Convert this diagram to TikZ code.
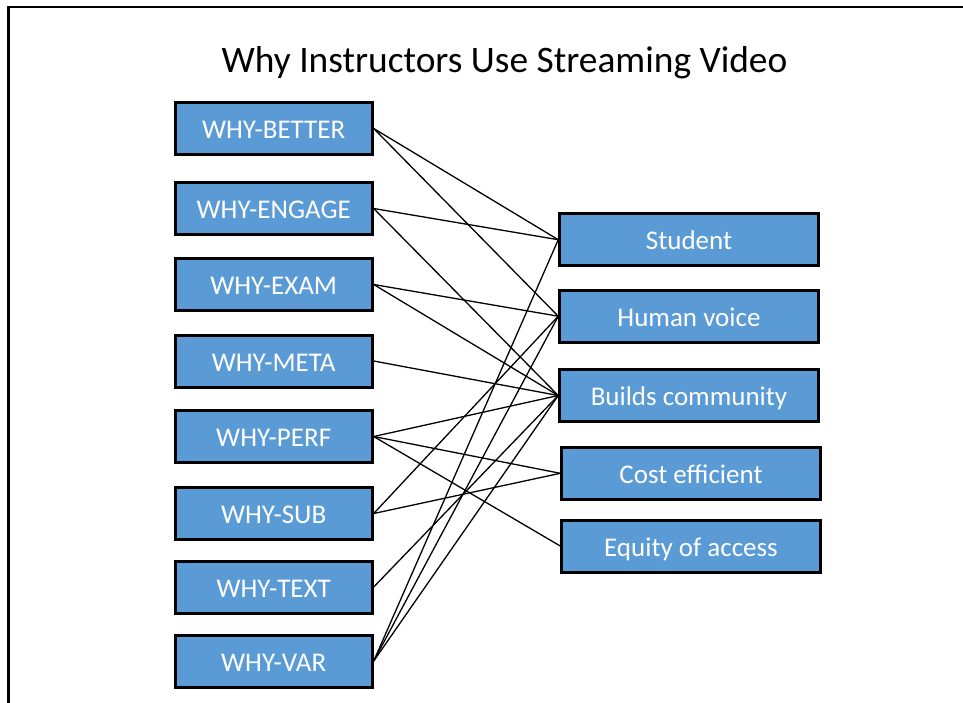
\documentclass[tikz,border=0pt]{standalone}
\usepackage{fontspec}
\setmainfont{Carlito}
\definecolor{boxblue}{HTML}{5B9BD5}
\begin{document}
\begin{tikzpicture}[x=1pt,y=-1pt,
  reason/.style={draw=black, line width=3pt, fill=boxblue, text=white,
    minimum width=197pt, minimum height=52pt, inner sep=0pt,
    text height=20.4pt, text depth=0pt,
    font=\fontsize{27}{31}\selectfont},
  benefit/.style={reason, minimum width=258.5pt},
  link/.style={draw=black, line width=1.3pt}]
  \useasboundingbox (0,0) rectangle (963,702);
  \begin{scope}
    \clip (0,0) rectangle (963,702);
    % slide frame, running past the right and bottom edges
    \draw[line width=2.6pt] (8.7,760) -- (8.7,7) -- (1000,7);
  \end{scope}

  \node[anchor=base, font=\fontsize{37.4}{44}\selectfont] (title) at (504.5,72) {Why Instructors Use Streaming Video};

  % reasons
  \node[reason] (better) at (273.7,128.5) {WHY-BETTER};
  \node[reason] (engage) at (273.7,208.5) {WHY-ENGAGE};
  \node[reason] (exam)   at (273.7,284.5) {WHY-EXAM};
  \node[reason] (meta)   at (273.7,361)   {WHY-META};
  \node[reason] (perf)   at (273.7,436.5) {WHY-PERF};
  \node[reason] (sub)    at (273.7,513.5) {WHY-SUB};
  \node[reason] (text)   at (273.7,587)   {WHY-TEXT};
  \node[reason] (var)    at (273.7,661)   {WHY-VAR};

  % benefits
  \node[benefit] (student) at (689,239.7) {Student};
  \node[benefit] (voice)   at (689,316.2) {Human voice};
  \node[benefit] (commun)  at (689,395.5) {Builds community};
  \node[benefit] (cost)    at (691,473.3) {Cost efficient};
  \node[benefit] (equity)  at (691,546)   {Equity of access};

  % links
  \draw[link] (better.east) -- (student.west);
  \draw[link] (better.east) -- (voice.west);
  \draw[link] (engage.east) -- (student.west);
  \draw[link] (engage.east) -- (commun.west);
  \draw[link] (exam.east) -- (voice.west);
  \draw[link] (exam.east) -- (commun.west);
  \draw[link] (meta.east) -- (commun.west);
  \draw[link] (perf.east) -- (commun.west);
  \draw[link] (perf.east) -- (cost.west);
  \draw[link] (perf.east) -- (equity.west);
  \draw[link] (sub.east) -- (voice.west);
  \draw[link] (sub.east) -- (cost.west);
  \draw[link] (text.east) -- (commun.west);
  \draw[link] (var.east) -- (student.west);
  \draw[link] (var.east) -- (voice.west);
  \draw[link] (var.east) -- (commun.west);
\end{tikzpicture}
\end{document}
